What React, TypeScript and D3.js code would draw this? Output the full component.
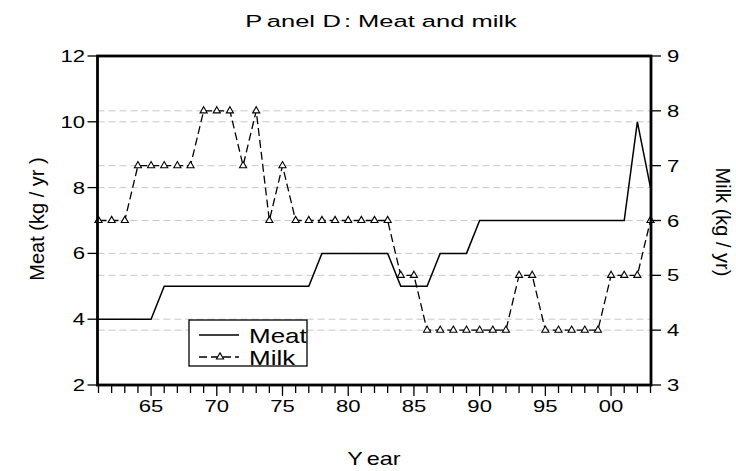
import React from "react";
import * as d3 from "d3";

// Annual series, 1961–2003
const years = [
  1961, 1962, 1963, 1964, 1965, 1966, 1967, 1968, 1969, 1970,
  1971, 1972, 1973, 1974, 1975, 1976, 1977, 1978, 1979, 1980,
  1981, 1982, 1983, 1984, 1985, 1986, 1987, 1988, 1989, 1990,
  1991, 1992, 1993, 1994, 1995, 1996, 1997, 1998, 1999, 2000,
  2001, 2002, 2003,
];
const meat = [
  4, 4, 4, 4, 4, 5, 5, 5, 5, 5,
  5, 5, 5, 5, 5, 5, 5, 6, 6, 6,
  6, 6, 6, 5, 5, 5, 6, 6, 6, 7,
  7, 7, 7, 7, 7, 7, 7, 7, 7, 7,
  7, 10, 8,
];
const milk = [
  6, 6, 6, 7, 7, 7, 7, 7, 8, 8,
  8, 7, 8, 6, 7, 6, 6, 6, 6, 6,
  6, 6, 6, 5, 5, 4, 4, 4, 4, 4,
  4, 4, 5, 5, 4, 4, 4, 4, 4, 5,
  5, 5, 6,
];
const meatTicks = [2, 4, 6, 8, 10, 12];
const milkTicks = [3, 4, 5, 6, 7, 8, 9];
const yearLabels = [1965, 1970, 1975, 1980, 1985, 1990, 1995, 2000];

const W = 736;
const H = 471;
const FONT = "'Liberation Sans', Arial, sans-serif";
const SX = 1.3; // horizontal widening of the lettering

const left = 97.5;
const right = 651;
const top = 56;
const bottom = 385;

export default function App() {
  const x = d3.scaleLinear().domain([1961, 2003]).range([98.5, 650.5]);
  const yL = d3.scaleLinear().domain([2, 12]).range([bottom, top]);
  const yR = d3.scaleLinear().domain([3, 9]).range([bottom, top]);

  const meatLine = d3
    .line<number>()
    .x((_, i) => x(years[i]))
    .y((d) => yL(d))(meat) as string;
  const milkLine = d3
    .line<number>()
    .x((_, i) => x(years[i]))
    .y((d) => yR(d))(milk) as string;
  const tri = d3.symbol(d3.symbolTriangle, 22)() as string;

  const grid = [
    ...meatTicks.filter((t) => t > 2 && t < 12).map((t) => yL(t)),
    ...milkTicks.filter((t) => t > 3 && t < 9).map((t) => yR(t)),
  ];

  const label = (
    key: string | number,
    tx: number,
    ty: number,
    text: string,
    anchor: "start" | "middle" | "end",
    size = 17
  ) => (
    <text
      key={key}
      transform={`translate(${tx},${ty}) scale(${SX},1)`}
      textAnchor={anchor}
      fontSize={size}
      fontFamily={FONT}
      fill="#000"
    >
      {text}
    </text>
  );

  return (
    <svg
      width={W}
      height={H}
      style={{ position: "absolute", left: 0, top: 0, background: "#fff" }}
    >
      <rect x={0} y={0} width={W} height={H} fill="#fff" />

      {/* title */}
      <text
        transform={`translate(381,27) scale(1.5,1)`}
        textAnchor="middle"
        fontSize={17}
        fontFamily={FONT}
      >
        <tspan>P</tspan>
        <tspan dx={3}>anel</tspan>
        <tspan dx={5}>D</tspan>
        <tspan dx={2}>: Meat and milk</tspan>
      </text>

      {/* gridlines */}
      {grid.map((gy, i) => (
        <line
          key={i}
          x1={left}
          x2={right}
          y1={gy}
          y2={gy}
          stroke="#c8c8c8"
          strokeWidth={1}
          strokeDasharray="7,4"
        />
      ))}

      {/* series */}
      <path d={meatLine} fill="none" stroke="#000" strokeWidth={1.5} />
      <path
        d={milkLine}
        fill="none"
        stroke="#000"
        strokeWidth={1.3}
        strokeDasharray="8,4"
      />
      {milk.map((v, i) => (
        <path
          key={i}
          d={tri}
          transform={`translate(${x(years[i])},${yR(v)})`}
          fill="#fff"
          stroke="#000"
          strokeWidth={1.1}
        />
      ))}

      {/* frame */}
      <rect
        x={left}
        y={top}
        width={right - left}
        height={bottom - top}
        fill="none"
        stroke="#000"
        strokeWidth={2.8}
      />

      {/* left axis */}
      {meatTicks.map((t) => (
        <g key={t}>
          <line x1={left - 10} x2={left} y1={yL(t)} y2={yL(t)} stroke="#000" strokeWidth={1.3} />
          {label(`l${t}`, 85, yL(t) + 6, String(t), "end")}
        </g>
      ))}

      {/* right axis */}
      {milkTicks.map((t) => (
        <g key={t}>
          <line x1={right} x2={right + 10} y1={yR(t)} y2={yR(t)} stroke="#000" strokeWidth={1.3} />
          {label(`r${t}`, 667, yR(t) + 6, String(t), "start")}
        </g>
      ))}

      {/* bottom axis */}
      {years.map((yr) => {
        const major = yearLabels.includes(yr);
        return (
          <line
            key={yr}
            x1={x(yr)}
            x2={x(yr)}
            y1={bottom}
            y2={bottom + (major ? 11 : 8)}
            stroke="#000"
            strokeWidth={1.3}
          />
        );
      })}
      {yearLabels.map((yr) =>
        label(`x${yr}`, x(yr), 412, String(yr % 100).padStart(2, "0"), "middle")
      )}

      {/* axis titles */}
      <text
        transform={`translate(374,465) scale(${SX},1)`}
        textAnchor="middle"
        fontSize={18}
        fontFamily={FONT}
      >
        <tspan>Y</tspan>
        <tspan dx={3}>ear</tspan>
      </text>
      <text
        transform="translate(44,219) rotate(-90)"
        textAnchor="middle"
        fontSize={20}
        fontFamily={FONT}
      >
        Meat (kg / yr )
      </text>
      <text
        transform="translate(716,222) rotate(90)"
        textAnchor="middle"
        fontSize={20}
        fontFamily={FONT}
      >
        Milk (kg / yr)
      </text>

      {/* legend */}
      <rect x={189} y={320} width={118} height={46} fill="#fff" stroke="none" />
      <line x1={199} x2={239} y1={335} y2={335} stroke="#000" strokeWidth={1.5} />
      <line
        x1={199}
        x2={239}
        y1={357}
        y2={357}
        stroke="#000"
        strokeWidth={1.3}
        strokeDasharray="8,4"
      />
      <path d={tri} transform="translate(220,357)" fill="#fff" stroke="#000" strokeWidth={1.1} />
      {label("lg1", 249, 343, "Meat", "start", 20)}
      {label("lg2", 249, 365, "Milk", "start", 20)}
      <rect x={189} y={320} width={118} height={46} fill="none" stroke="#000" strokeWidth={1.3} />
    </svg>
  );
}
